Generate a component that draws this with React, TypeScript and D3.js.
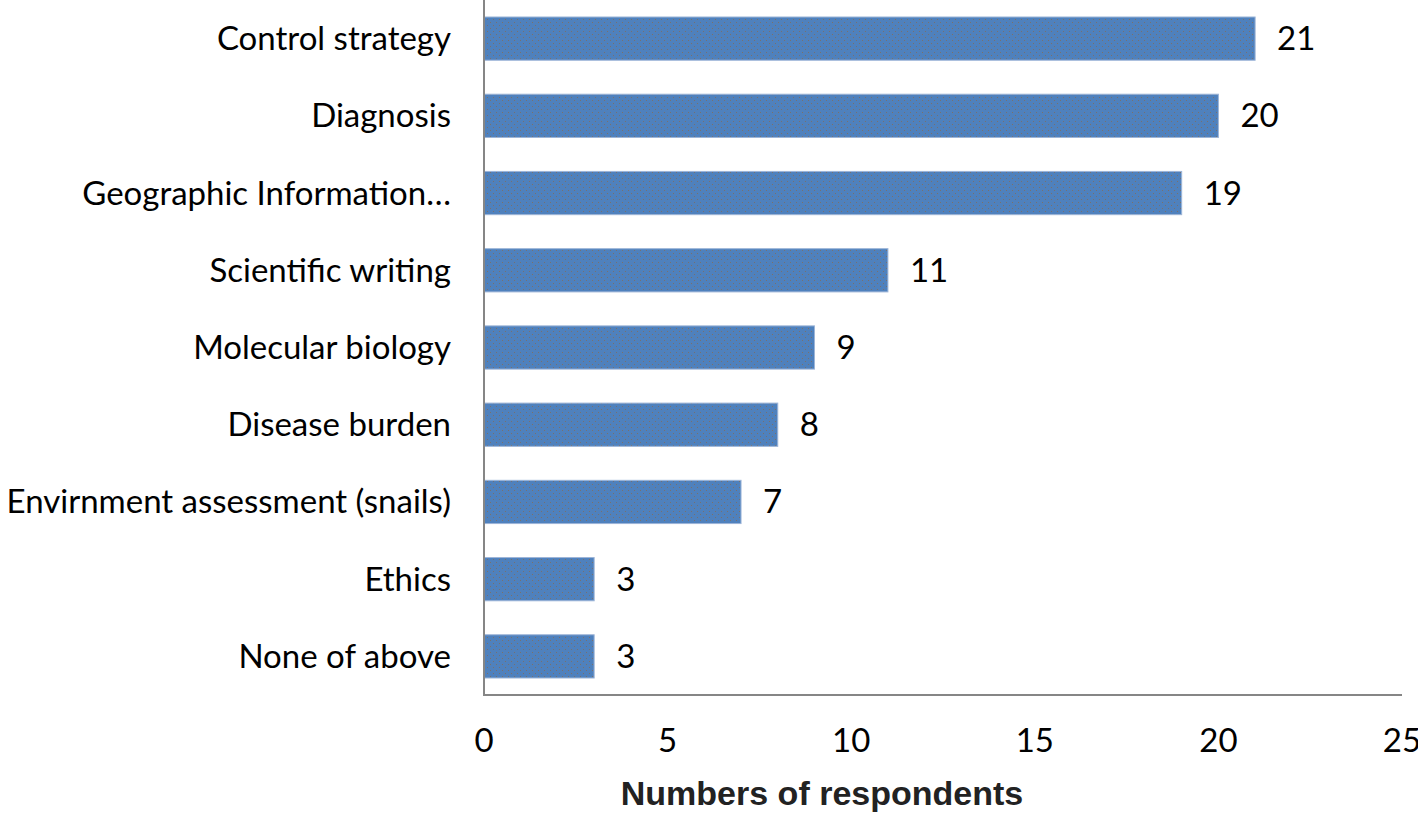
import React, { useEffect, useRef } from 'react'
import * as d3 from 'd3'

const categories = [
  'Control strategy',
  'Diagnosis',
  'Geographic Information…',
  'Scientific writing',
  'Molecular biology',
  'Disease burden',
  'Envirnment assessment (snails)',
  'Ethics',
  'None of above',
]
const respondents = [21, 20, 19, 11, 9, 8, 7, 3, 3]
const xTicks = [0, 5, 10, 15, 20, 25]
const xTitle = 'Numbers of respondents'

const WIDTH = 1418
const HEIGHT = 813
const FONT = 'Lato, "Open Sans", sans-serif'

export default function App() {
  const ref = useRef<SVGSVGElement>(null)

  useEffect(() => {
    const svg = d3.select(ref.current)
    svg.selectAll('*').remove()

    const margin = { top: 0, right: 16, bottom: 118, left: 484 }
    const data = categories.map((name, i) => ({ name, value: respondents[i] }))

    const x = d3
      .scaleLinear()
      .domain([0, 25])
      .range([margin.left, WIDTH - margin.right])

    const y = d3
      .scaleBand()
      .domain(categories)
      .range([margin.top, HEIGHT - margin.bottom])
      .paddingInner(0.44)
      .paddingOuter(0.22)

    // dotted texture like the original office chart
    const defs = svg.append('defs')
    const pat = defs
      .append('pattern')
      .attr('id', 'dots')
      .attr('width', 6)
      .attr('height', 6)
      .attr('patternUnits', 'userSpaceOnUse')
    pat.append('rect').attr('width', 6).attr('height', 6).attr('fill', '#4f81bd')
    pat.append('rect').attr('x', 1).attr('y', 1).attr('width', 1).attr('height', 1).attr('fill', '#8a6a4a').attr('opacity', 0.7)
    pat.append('rect').attr('x', 4).attr('y', 4).attr('width', 1).attr('height', 1).attr('fill', '#8a6a4a').attr('opacity', 0.7)

    svg
      .append('g')
      .selectAll('rect')
      .data(data)
      .join('rect')
      .attr('x', x(0))
      .attr('y', d => y(d.name)!)
      .attr('width', d => x(d.value) - x(0))
      .attr('height', y.bandwidth())
      .attr('fill', 'url(#dots)')
      .attr('stroke', '#9db5d8')
      .attr('stroke-width', 1)

    // value labels
    svg
      .append('g')
      .selectAll('text')
      .data(data)
      .join('text')
      .attr('x', d => x(d.value) + 22)
      .attr('y', d => y(d.name)! + y.bandwidth() / 2)
      .attr('dy', '0.35em')
      .style('font', `33px ${FONT}`)
      .attr('fill', '#000')
      .text(d => d.value)

    // category labels
    svg
      .append('g')
      .selectAll('text')
      .data(data)
      .join('text')
      .attr('x', margin.left - 33)
      .attr('y', d => y(d.name)! + y.bandwidth() / 2)
      .attr('dy', '0.35em')
      .attr('text-anchor', 'end')
      .style('font', `33px ${FONT}`)
      .attr('fill', '#000')
      .text(d => d.name)

    // axes lines
    const axisY = HEIGHT - margin.bottom
    svg
      .append('line')
      .attr('x1', x(0))
      .attr('x2', x(0))
      .attr('y1', 0)
      .attr('y2', axisY)
      .attr('stroke', '#868686')
      .attr('stroke-width', 2)
    svg
      .append('line')
      .attr('x1', x(0) - 1)
      .attr('x2', x(25))
      .attr('y1', axisY)
      .attr('y2', axisY)
      .attr('stroke', '#868686')
      .attr('stroke-width', 2)

    // tick labels
    svg
      .append('g')
      .selectAll('text')
      .data(xTicks)
      .join('text')
      .attr('x', d => x(d))
      .attr('y', axisY + 45)
      .attr('dy', '0.35em')
      .attr('text-anchor', 'middle')
      .style('font', `33px ${FONT}`)
      .attr('fill', '#000')
      .text(d => d)

    svg
      .append('text')
      .attr('x', 822)
      .attr('y', 793)
      .attr('dy', '0.35em')
      .attr('text-anchor', 'middle')
      .style('font', 'bold 34px "Liberation Sans", Arial, sans-serif')
      .attr('fill', '#222')
      .text(xTitle)
  }, [])

  return (
    <svg
      ref={ref}
      width={WIDTH}
      height={HEIGHT}
      style={{ display: 'block', position: 'absolute', left: 0, top: 0, background: '#fff' }}
    />
  )
}
